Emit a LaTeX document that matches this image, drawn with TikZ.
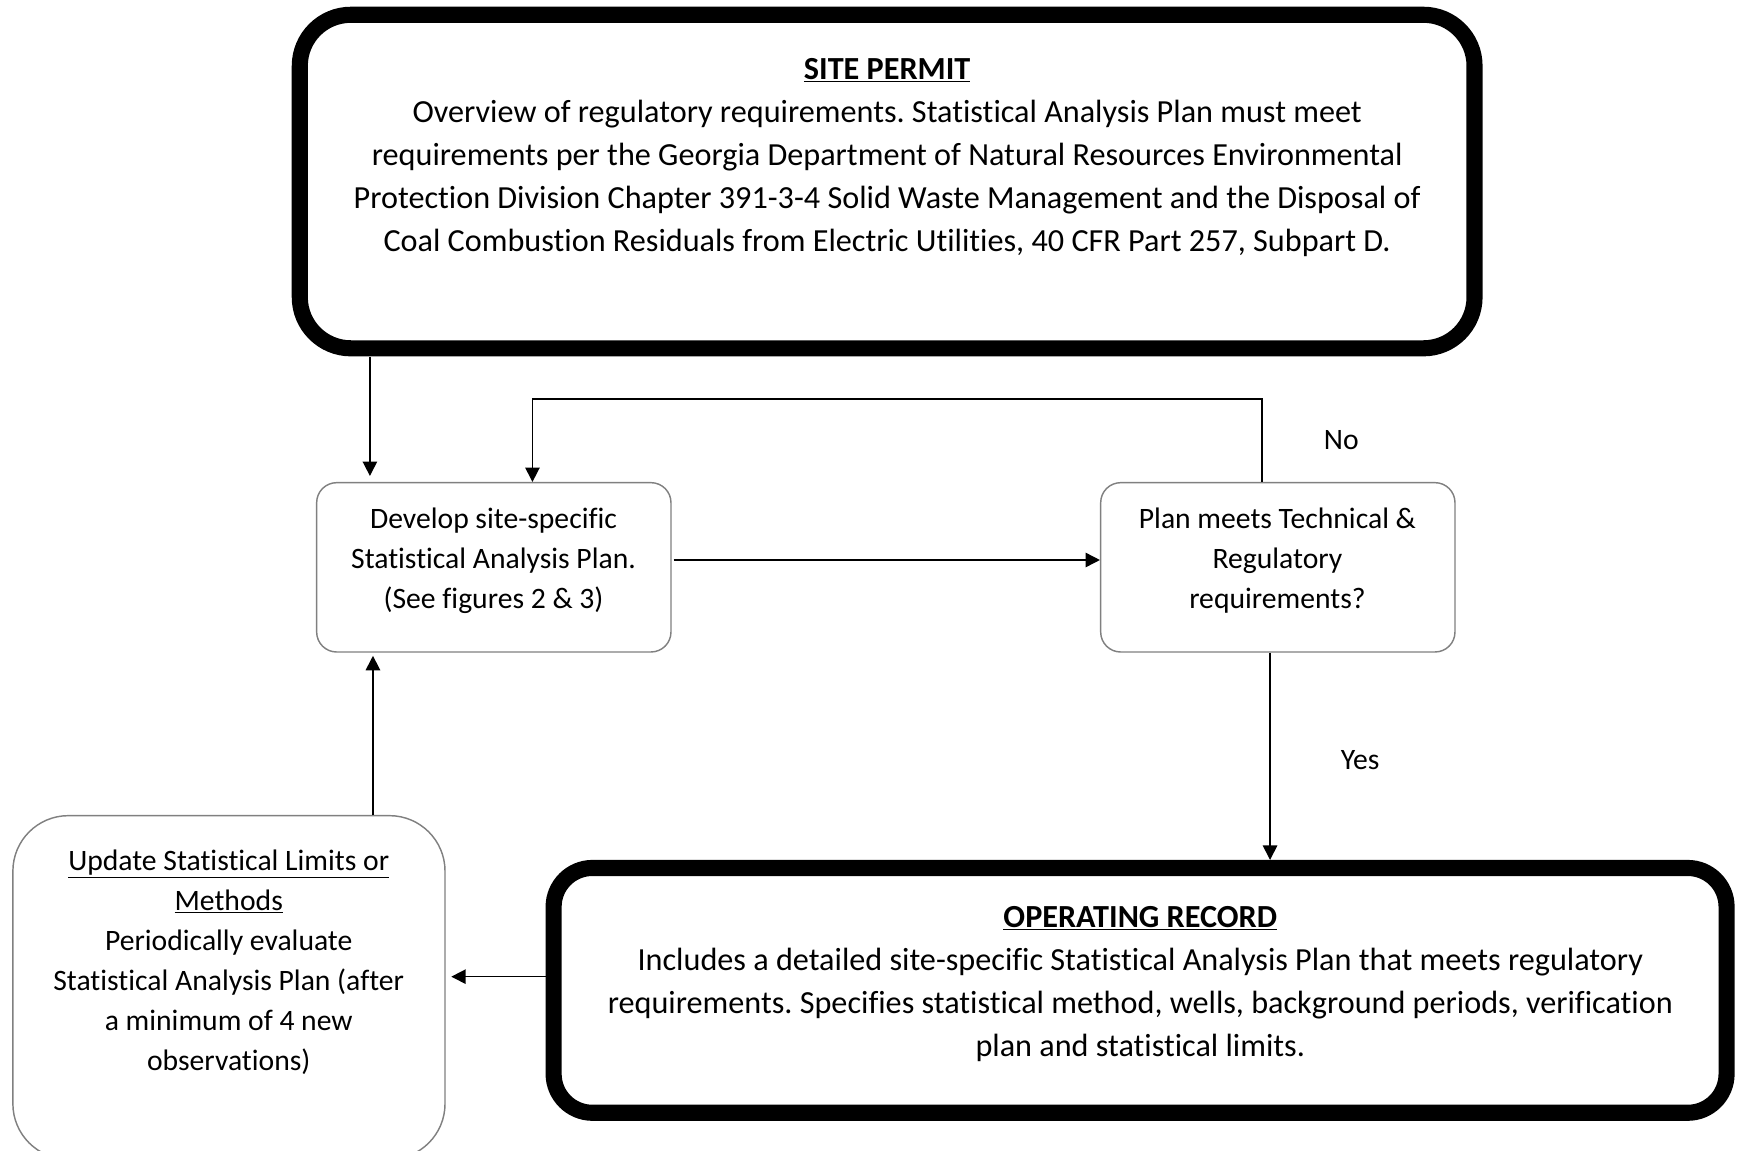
\documentclass[tikz,border=0pt]{standalone}
\usepackage{fontspec}
\setmainfont{Carlito}[RawFeature={-liga;-clig;-dlig}]
\usetikzlibrary{arrows.meta,calc}
\definecolor{boxgray}{RGB}{128,128,128}
\frenchspacing
\begin{document}
\begin{tikzpicture}[x=1pt,y=-1pt,
  thickbox/.style={draw=black, line width=14.5pt, inner sep=0pt},
  thinbox/.style={draw=boxgray, line width=1.3pt, inner sep=0pt},
  bigtxt/.style={align=center, font=\fontsize{29}{38.7}\selectfont, inner sep=0pt},
  smalltxt/.style={align=center, font=\fontsize{26.7}{36}\selectfont, inner sep=0pt},
  lbl/.style={font=\fontsize{26.7}{30}\selectfont, inner sep=0pt},
  arr/.style={line width=1.4pt, -{Triangle[length=13pt,width=13pt]}}
]
\useasboundingbox (0,0) rectangle (1568,1036);
\clip (0,0) rectangle (1568,1036);

% boxes
\node[thickbox, rounded corners=46pt, minimum width=1058pt, minimum height=300.4pt] (site) at (799,163.5) {};
\node[thinbox, rounded corners=18pt, minimum width=319.1pt, minimum height=152.5pt] (develop) at (444.75,510.95) {};
\node[thinbox, rounded corners=18pt, minimum width=319.1pt, minimum height=152.5pt] (plan) at (1150.85,510.95) {};
\node[thickbox, rounded corners=35pt, minimum width=1056.4pt, minimum height=220.5pt] (operating) at (1026.8,891.95) {};
\node[thinbox, rounded corners=50pt, minimum width=389.2pt, minimum height=309.4pt] (update) at (206.2,889.3) {};

% texts
\node[bigtxt] (sitetxt) at (799,141.5) {\textbf{\underline{SITE PERMIT}}\\
Overview of regulatory requirements. Statistical Analysis Plan must meet\\
requirements per the Georgia Department of Natural Resources Environmental\\
Protection Division Chapter 391-3-4 Solid Waste Management and the Disposal of\\
Coal Combustion Residuals from Electric Utilities, 40 CFR Part 257, Subpart D.};
\node[smalltxt] (developtxt) at (444.5,505) {Develop site-specific\\Statistical Analysis Plan.\\(See figures 2 \& 3)};
\node[smalltxt] (plantxt) at (1150.5,505) {Plan meets Technical \&\\Regulatory\\requirements?};
\node[smalltxt] (updatetxt) at (206,866.5) {\underline{Update Statistical Limits or}\\\underline{Methods}\\Periodically evaluate\\Statistical Analysis Plan (after\\a minimum of 4 new\\observations)};
\node[bigtxt] (operatingtxt) at (1027,886.5) {\textbf{\underline{OPERATING RECORD}}\\
Includes a detailed site-specific Statistical Analysis Plan that meets regulatory\\
requirements. Specifies statistical method, wells, background periods, verification\\
plan and statistical limits.};
\node[lbl] (no) at (1208,396) {No};
\node[lbl] (yes) at (1225,685) {Yes};

% connectors
\draw[arr] ($(develop.north west |- site.south)+(48.6,1)$) -- ($(develop.north west)+(48.6,-5.4)$);
\draw[arr] ($(plan.north)+(-14.5,0)$) -- ++(0,-74.5) -| ($(develop.north west)+(195,0)$);
\draw[arr] ($(develop.east)+(1.7,-6.6)$) -- ($(plan.west)+(0,-6.6)$);
\draw[arr] ($(plan.south)+(-7,0)$) -- ($(plan.south |- operating.north)+(-7,0)$);
\draw[arr] ($(operating.west)+(0,-12.35)$) -- ($(update.east |- operating.west)+(5,-12.35)$);
\draw[arr] ($(update.north)+(129.7,0)$) -- ($(develop.south)+(-108.85,2.8)$);
\end{tikzpicture}
\end{document}
